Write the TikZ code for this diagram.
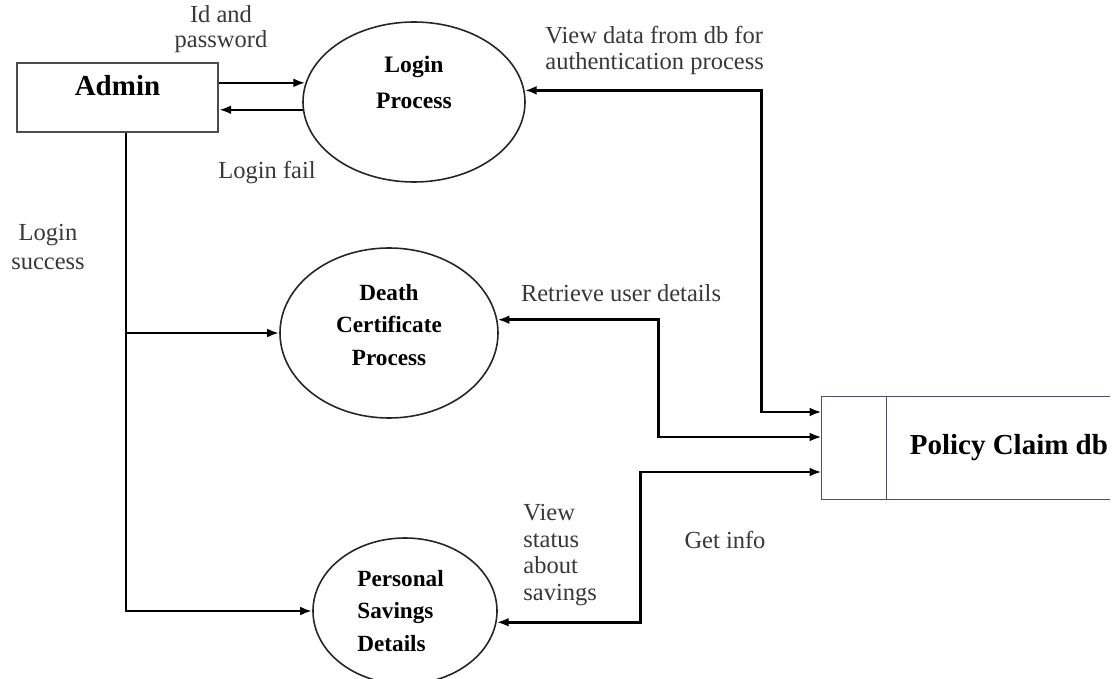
\documentclass[tikz,border=0pt]{standalone}
\usepackage{fontspec}
\setmainfont{Liberation Serif}
\usetikzlibrary{arrows.meta,shapes.geometric}

\definecolor{lblgray}{HTML}{383838}
\definecolor{storeline}{HTML}{4A4F6E}

\begin{document}
\begin{tikzpicture}[x=0.5pt,y=-0.5pt,>={Latex[length=6pt,width=4.4pt]},
  flow/.style={line width=1.25pt},
  proc/.style={draw=black!85,ellipse,line width=0.8pt,inner sep=0pt},
  proctxt/.style={font=\fontsize{11.6}{16.25}\selectfont\bfseries,align=center,inner sep=0pt},
  lbl/.style={font=\fontsize{12.25}{13}\selectfont,text=lblgray,align=center,inner sep=0pt},
  entity/.style={draw=black!70,line width=1.1pt,inner sep=0pt,minimum width=100.5pt,
    text height=16.25pt,text depth=18.25pt,font=\fontsize{14.5}{17}\selectfont\bfseries},
  store/.style={draw=storeline,line width=0.75pt}]
\useasboundingbox (0,0) rectangle (1114,679);

\node[entity] (admin) at (117.5,97.5) {Admin};
\node[proc,minimum width=111pt,minimum height=80pt] (login) at (414,102) {};
\node[proctxt,font=\fontsize{11.8}{18}\selectfont\bfseries] (logintxt) at ([yshift=10pt]login.center) {Login\\Process};
\node[proc,minimum width=109pt,minimum height=85pt] (death) at (389,333) {};
\node[proctxt] (deathtxt) at ([yshift=4pt]death.center) {Death\\Certificate\\Process};
\node[proc,minimum width=92pt,minimum height=73pt] (personal) at (405,611) {};
\node[proctxt,align=left,anchor=west] (personaltxt) at ([xshift=-24pt]personal.center) {Personal\\Savings\\Details};

\node[inner sep=0pt,minimum width=32pt,minimum height=51pt] (dbkey) at (854,448) {};
\node[inner sep=1pt,minimum height=51pt,text width=110pt,align=flush right,
  font=\fontsize{14.5}{17}\selectfont\bfseries] (db) at (998,448) {Policy Claim db};
\draw[store] (db.north east) -- (dbkey.north west) -- (dbkey.south west) -- (db.south east);
\draw[store] (dbkey.north east) -- (dbkey.south east);

\draw[flow,->] (admin.east |- login.170) -- (login.170);
\draw[flow,->] (login.184) -- (admin.east |- login.184);
\draw[flow,<->] (login.6) -| ([xshift=-30pt,yshift=18pt]dbkey.west) -- ([yshift=18pt]dbkey.west);
\draw[flow,<->] (death.7) -| ([xshift=-81.5pt,yshift=5.5pt]dbkey.west) -- ([yshift=5.5pt]dbkey.west);
\draw[flow,<->] (personal.353) -| ([xshift=-90.5pt,yshift=-12pt]dbkey.west) -- ([yshift=-12pt]dbkey.west);
\draw[flow,->] ([xshift=4.25pt]admin.south) |- (personal.west);
\draw[flow,->] ([xshift=4.25pt]admin.south |- death.west) -- (death.west);

\node[lbl,font=\fontsize{12.25}{12.5}\selectfont] (idpw) at (221,29.5) {Id and\\password};
\node[lbl] (fail) at (267,173) {Login fail};
\node[lbl,align=left,anchor=west] (viewauth) at (545,50) {View data from db for\\authentication process};
\node[lbl,font=\fontsize{12.25}{14.5}\selectfont] (success) at (48,247.5) {Login\\success};
\node[lbl] (retrieve) at (621,293) {Retrieve user details};
\node[lbl,align=left,anchor=west,font=\fontsize{12.25}{13.3}\selectfont] (viewstatus) at (523,555) {View\\status\\about\\savings};
\node[lbl] (getinfo) at (725,540) {Get info};
\end{tikzpicture}
\end{document}
